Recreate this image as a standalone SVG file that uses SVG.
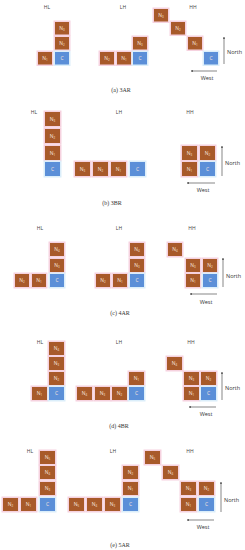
<svg xmlns="http://www.w3.org/2000/svg" width="245" height="550" viewBox="0 0 245 550">
<defs>
<marker id="ah" viewBox="0 0 6 6" refX="5" refY="3" markerWidth="4" markerHeight="4" orient="auto"><path d="M0,0.5 L6,3 L0,5.5 z" fill="#555"/></marker>
<style>
.n rect{fill:#a85a2a;stroke:#f6d2df;stroke-width:3;paint-order:stroke}
.c rect{fill:#5b8fd8;stroke:#dbeefa;stroke-width:3;paint-order:stroke}
.n text,.c text{font-family:"Open Sans","Liberation Sans",sans-serif;font-size:5px;fill:#f7e3dc;text-anchor:middle}
.s{font-size:3px}
.lb{font-family:"Open Sans","Liberation Sans",sans-serif;font-size:5px;fill:#444;text-anchor:middle}
.dir{font-family:"Open Sans","Liberation Sans",sans-serif;font-size:5.5px;fill:#333}
.cap{font-family:"Liberation Serif",serif;font-size:6px;fill:#333;text-anchor:middle}
.ar{stroke:#555;stroke-width:0.7;fill:none;marker-end:url(#ah)}
</style>
</defs>
<rect width="245" height="550" fill="#fff"/>

<!-- panel a -->
<text class="lb" x="47" y="9">HL</text><text class="lb" x="123" y="9">LH</text><text class="lb" x="193" y="9">HH</text>
<g id="a-hl-n3" class="n"><rect x="55" y="22" width="14" height="12.5"/><text x="62" y="30">N<tspan class="s" dy="1">3</tspan></text></g>
<g id="a-hl-n2" class="n"><rect x="55" y="37" width="14" height="12.5"/><text x="62" y="45">N<tspan class="s" dy="1">2</tspan></text></g>
<g id="a-hl-n1" class="n"><rect x="38" y="52" width="14" height="12.5"/><text x="45" y="60">N<tspan class="s" dy="1">1</tspan></text></g>
<g id="a-hl-c" class="c"><rect x="55" y="52" width="14" height="12.5"/><text x="62" y="60">C</text></g>
<g id="a-lh-n2" class="n"><rect x="100" y="52" width="14" height="12.5"/><text x="107" y="60">N<tspan class="s" dy="1">2</tspan></text></g>
<g id="a-lh-n1" class="n"><rect x="117" y="52" width="14" height="12.5"/><text x="124" y="60">N<tspan class="s" dy="1">1</tspan></text></g>
<g id="a-lh-n3" class="n"><rect x="133" y="37" width="14" height="12.5"/><text x="140" y="45">N<tspan class="s" dy="1">3</tspan></text></g>
<g id="a-lh-c" class="c"><rect x="133" y="52" width="14" height="12.5"/><text x="140" y="60">C</text></g>
<g id="a-hh-n3" class="n"><rect x="154" y="9" width="14" height="12.5"/><text x="161" y="17">N<tspan class="s" dy="1">3</tspan></text></g>
<g id="a-hh-n2" class="n"><rect x="171" y="22" width="14" height="12.5"/><text x="178" y="30">N<tspan class="s" dy="1">2</tspan></text></g>
<g id="a-hh-n1" class="n"><rect x="188" y="37" width="14" height="12.5"/><text x="195" y="45">N<tspan class="s" dy="1">1</tspan></text></g>
<g id="a-hh-c" class="c"><rect x="204" y="52" width="14" height="12.5"/><text x="211" y="60">C</text></g>
<text class="dir" x="227" y="54">North</text><text class="dir" x="207" y="80" text-anchor="middle">West</text>
<text class="cap" x="121" y="92">(a) 3AR</text>

<!-- panel b -->
<text class="lb" x="34" y="114">HL</text><text class="lb" x="119" y="114">LH</text><text class="lb" x="190" y="114">HH</text>
<g id="b-hl-n3" class="n"><rect x="45" y="112" width="15" height="14"/><text x="52.5" y="120.5">N<tspan class="s" dy="1">3</tspan></text></g>
<g id="b-hl-n2" class="n"><rect x="45" y="129" width="15" height="14"/><text x="52.5" y="137.5">N<tspan class="s" dy="1">2</tspan></text></g>
<g id="b-hl-n1" class="n"><rect x="45" y="146" width="15" height="14"/><text x="52.5" y="154.5">N<tspan class="s" dy="1">1</tspan></text></g>
<g id="b-hl-c" class="c"><rect x="45" y="162" width="15" height="14"/><text x="52.5" y="170.5">C</text></g>
<g id="b-lh-n3" class="n"><rect x="75" y="162" width="15" height="14"/><text x="82.5" y="170.5">N<tspan class="s" dy="1">3</tspan></text></g>
<g id="b-lh-n2" class="n"><rect x="93" y="162" width="15" height="14"/><text x="100.5" y="170.5">N<tspan class="s" dy="1">2</tspan></text></g>
<g id="b-lh-n1" class="n"><rect x="111" y="162" width="15" height="14"/><text x="118.5" y="170.5">N<tspan class="s" dy="1">1</tspan></text></g>
<g id="b-lh-c" class="c"><rect x="130" y="162" width="15" height="14"/><text x="137.5" y="170.5">C</text></g>
<g id="b-hh-n3" class="n"><rect x="182" y="146" width="15" height="14"/><text x="189.5" y="154.5">N<tspan class="s" dy="1">3</tspan></text></g>
<g id="b-hh-n2" class="n"><rect x="200" y="146" width="15" height="14"/><text x="207.5" y="154.5">N<tspan class="s" dy="1">2</tspan></text></g>
<g id="b-hh-n1" class="n"><rect x="182" y="162" width="15" height="14"/><text x="189.5" y="170.5">N<tspan class="s" dy="1">1</tspan></text></g>
<g id="b-hh-c" class="c"><rect x="200" y="162" width="15" height="14"/><text x="207.5" y="170.5">C</text></g>
<text class="dir" x="225" y="165">North</text><text class="dir" x="203" y="192" text-anchor="middle">West</text>
<text class="cap" x="112" y="205">(b) 3BR</text>

<!-- panel c -->
<text class="lb" x="40" y="230">HL</text><text class="lb" x="119" y="230">LH</text><text class="lb" x="192" y="230">HH</text>
<g id="c-hl-n4" class="n"><rect x="50" y="243" width="14" height="13"/><text x="57" y="251">N<tspan class="s" dy="1">4</tspan></text></g>
<g id="c-hl-n3" class="n"><rect x="50" y="259" width="14" height="13"/><text x="57" y="267">N<tspan class="s" dy="1">3</tspan></text></g>
<g id="c-hl-n2" class="n"><rect x="15" y="274" width="14" height="13"/><text x="22" y="282">N<tspan class="s" dy="1">2</tspan></text></g>
<g id="c-hl-n1" class="n"><rect x="32" y="274" width="14" height="13"/><text x="39" y="282">N<tspan class="s" dy="1">1</tspan></text></g>
<g id="c-hl-c" class="c"><rect x="50" y="274" width="14" height="13"/><text x="57" y="282">C</text></g>
<g id="c-lh-n4" class="n"><rect x="130" y="243" width="14" height="13"/><text x="137" y="251">N<tspan class="s" dy="1">4</tspan></text></g>
<g id="c-lh-n3" class="n"><rect x="130" y="259" width="14" height="13"/><text x="137" y="267">N<tspan class="s" dy="1">3</tspan></text></g>
<g id="c-lh-n2" class="n"><rect x="96" y="274" width="14" height="13"/><text x="103" y="282">N<tspan class="s" dy="1">2</tspan></text></g>
<g id="c-lh-n1" class="n"><rect x="113" y="274" width="14" height="13"/><text x="120" y="282">N<tspan class="s" dy="1">1</tspan></text></g>
<g id="c-lh-c" class="c"><rect x="130" y="274" width="14" height="13"/><text x="137" y="282">C</text></g>
<g id="c-hh-n4" class="n"><rect x="168" y="243" width="14" height="13"/><text x="175" y="251">N<tspan class="s" dy="1">4</tspan></text></g>
<g id="c-hh-n3" class="n"><rect x="186" y="259" width="14" height="13"/><text x="193" y="267">N<tspan class="s" dy="1">3</tspan></text></g>
<g id="c-hh-n2" class="n"><rect x="203" y="259" width="14" height="13"/><text x="210" y="267">N<tspan class="s" dy="1">2</tspan></text></g>
<g id="c-hh-n1" class="n"><rect x="186" y="274" width="14" height="13"/><text x="193" y="282">N<tspan class="s" dy="1">1</tspan></text></g>
<g id="c-hh-c" class="c"><rect x="203" y="274" width="14" height="13"/><text x="210" y="282">C</text></g>
<text class="dir" x="226" y="278">North</text><text class="dir" x="206" y="304" text-anchor="middle">West</text>
<text class="cap" x="120" y="315">(c) 4AR</text>

<!-- panel d -->
<text class="lb" x="40" y="344">HL</text><text class="lb" x="119" y="344">LH</text><text class="lb" x="191" y="344">HH</text>
<g id="d-hl-n4" class="n"><rect x="49" y="342" width="15" height="13"/><text x="56.5" y="350">N<tspan class="s" dy="1">4</tspan></text></g>
<g id="d-hl-n3" class="n"><rect x="49" y="357" width="15" height="13"/><text x="56.5" y="365">N<tspan class="s" dy="1">3</tspan></text></g>
<g id="d-hl-n2" class="n"><rect x="49" y="372" width="15" height="13"/><text x="56.5" y="380">N<tspan class="s" dy="1">2</tspan></text></g>
<g id="d-hl-n1" class="n"><rect x="32" y="387" width="15" height="13"/><text x="39.5" y="395">N<tspan class="s" dy="1">1</tspan></text></g>
<g id="d-hl-c" class="c"><rect x="49" y="387" width="15" height="13"/><text x="56.5" y="395">C</text></g>
<g id="d-lh-n4" class="n"><rect x="77" y="387" width="15" height="13"/><text x="84.5" y="395">N<tspan class="s" dy="1">4</tspan></text></g>
<g id="d-lh-n3" class="n"><rect x="95" y="387" width="15" height="13"/><text x="102.5" y="395">N<tspan class="s" dy="1">3</tspan></text></g>
<g id="d-lh-n2" class="n"><rect x="112" y="387" width="15" height="13"/><text x="119.5" y="395">N<tspan class="s" dy="1">2</tspan></text></g>
<g id="d-lh-n1" class="n"><rect x="129" y="372" width="15" height="13"/><text x="136.5" y="380">N<tspan class="s" dy="1">1</tspan></text></g>
<g id="d-lh-c" class="c"><rect x="129" y="387" width="15" height="13"/><text x="136.5" y="395">C</text></g>
<g id="d-hh-n4" class="n"><rect x="167" y="357" width="15" height="13"/><text x="174.5" y="365">N<tspan class="s" dy="1">4</tspan></text></g>
<g id="d-hh-n3" class="n"><rect x="184" y="372" width="15" height="13"/><text x="191.5" y="380">N<tspan class="s" dy="1">3</tspan></text></g>
<g id="d-hh-n2" class="n"><rect x="201" y="372" width="15" height="13"/><text x="208.5" y="380">N<tspan class="s" dy="1">2</tspan></text></g>
<g id="d-hh-n1" class="n"><rect x="184" y="387" width="15" height="13"/><text x="191.5" y="395">N<tspan class="s" dy="1">1</tspan></text></g>
<g id="d-hh-c" class="c"><rect x="201" y="387" width="15" height="13"/><text x="208.5" y="395">C</text></g>
<text class="dir" x="225" y="390">North</text><text class="dir" x="206" y="416" text-anchor="middle">West</text>
<text class="cap" x="119" y="428">(d) 4BR</text>

<!-- panel e -->
<text class="lb" x="30" y="453">HL</text><text class="lb" x="113" y="453">LH</text><text class="lb" x="190" y="453">HH</text>
<g id="e-hl-n5" class="n"><rect x="40" y="451" width="15" height="13"/><text x="47.5" y="459">N<tspan class="s" dy="1">5</tspan></text></g>
<g id="e-hl-n4" class="n"><rect x="40" y="466" width="15" height="13"/><text x="47.5" y="474">N<tspan class="s" dy="1">4</tspan></text></g>
<g id="e-hl-n3" class="n"><rect x="40" y="482" width="15" height="13"/><text x="47.5" y="490">N<tspan class="s" dy="1">3</tspan></text></g>
<g id="e-hl-n2" class="n"><rect x="3" y="498" width="15" height="13"/><text x="10.5" y="506">N<tspan class="s" dy="1">2</tspan></text></g>
<g id="e-hl-n1" class="n"><rect x="21" y="498" width="15" height="13"/><text x="28.5" y="506">N<tspan class="s" dy="1">1</tspan></text></g>
<g id="e-hl-c" class="c"><rect x="40" y="498" width="15" height="13"/><text x="47.5" y="506">C</text></g>
<g id="e-lh-n5" class="n"><rect x="69" y="498" width="15" height="13"/><text x="76.5" y="506">N<tspan class="s" dy="1">5</tspan></text></g>
<g id="e-lh-n4" class="n"><rect x="87" y="498" width="15" height="13"/><text x="94.5" y="506">N<tspan class="s" dy="1">4</tspan></text></g>
<g id="e-lh-n3" class="n"><rect x="105" y="498" width="15" height="13"/><text x="112.5" y="506">N<tspan class="s" dy="1">3</tspan></text></g>
<g id="e-lh-n2" class="n"><rect x="123" y="466" width="15" height="13"/><text x="130.5" y="474">N<tspan class="s" dy="1">2</tspan></text></g>
<g id="e-lh-n1" class="n"><rect x="123" y="482" width="15" height="13"/><text x="130.5" y="490">N<tspan class="s" dy="1">1</tspan></text></g>
<g id="e-lh-c" class="c"><rect x="123" y="498" width="15" height="13"/><text x="130.5" y="506">C</text></g>
<g id="e-hh-n5" class="n"><rect x="145" y="451" width="15" height="13"/><text x="152.5" y="459">N<tspan class="s" dy="1">5</tspan></text></g>
<g id="e-hh-n4" class="n"><rect x="163" y="466" width="15" height="13"/><text x="170.5" y="474">N<tspan class="s" dy="1">4</tspan></text></g>
<g id="e-hh-n3" class="n"><rect x="181" y="482" width="15" height="13"/><text x="188.5" y="490">N<tspan class="s" dy="1">3</tspan></text></g>
<g id="e-hh-n2" class="n"><rect x="199" y="482" width="15" height="13"/><text x="206.5" y="490">N<tspan class="s" dy="1">2</tspan></text></g>
<g id="e-hh-n1" class="n"><rect x="181" y="498" width="15" height="13"/><text x="188.5" y="506">N<tspan class="s" dy="1">1</tspan></text></g>
<g id="e-hh-c" class="c"><rect x="199" y="498" width="15" height="13"/><text x="206.5" y="506">C</text></g>
<text class="dir" x="224" y="502">North</text><text class="dir" x="203" y="529" text-anchor="middle">West</text>
<text class="cap" x="120" y="547">(e) 5AR</text>

<g id="connectors">
<line class="ar" x1="224" y1="64" x2="224" y2="37"/>
<line class="ar" x1="217" y1="71" x2="191" y2="71"/>
<line class="ar" x1="222" y1="176" x2="222" y2="146"/>
<line class="ar" x1="215" y1="183" x2="187" y2="183"/>
<line class="ar" x1="223" y1="287" x2="223" y2="258"/>
<line class="ar" x1="217" y1="294" x2="190" y2="294"/>
<line class="ar" x1="222" y1="400" x2="222" y2="372"/>
<line class="ar" x1="216" y1="407" x2="189" y2="407"/>
<line class="ar" x1="221" y1="512" x2="221" y2="482"/>
<line class="ar" x1="214" y1="520" x2="187" y2="520"/>
</g>
</svg>
